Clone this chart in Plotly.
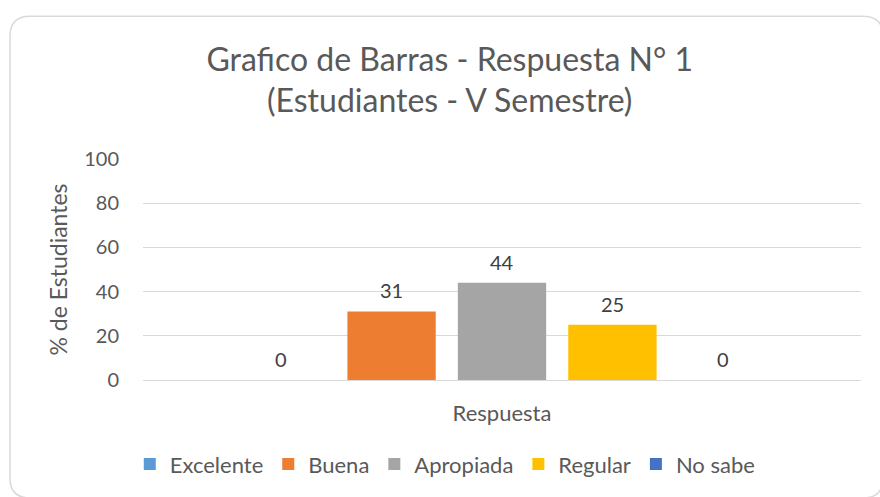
import plotly.graph_objects as go

categories = ["Respuesta"]
series_names = ["Excelente", "Buena", "Apropiada", "Regular", "No sabe"]
series_values = [0, 31, 44, 25, 0]
series_colors = ["#5B9BD5", "#ED7D31", "#A5A5A5", "#FFC000", "#4472C4"]

title_text = "Grafico de Barras - Respuesta N° 1<br>(Estudiantes - V Semestre)"
y_title = "% de Estudiantes"
y_ticks = [0, 20, 40, 60, 80, 100]

FONT = "Lato"
W, H = 880, 497
ML, MR, MT, MB = 143, 19, 159, 115
PW, PH = W - ML - MR, H - MT - MB
BARGAP = 0.231

fig = go.Figure()
for name, val, col in zip(series_names, series_values, series_colors):
    fig.add_trace(go.Bar(
        x=categories, y=[val], name=name, marker=dict(color=col, line=dict(width=0)),
        hoverinfo="skip",
    ))

# value labels, placed over each grouped bar slot
n = len(series_names)
slot = (1 - BARGAP) / n
annotations = []
for i, val in enumerate(series_values):
    annotations.append(dict(
        x=(i - (n - 1) / 2) * slot, y=val, xref="x", yref="y",
        text=str(val), showarrow=False, yanchor="middle", yshift=21,
        font=dict(family=FONT, size=20, color="#404040"),
    ))


def px2paper(px, py):
    return (px - ML) / PW, (H - MB - py) / PH


def frame_path(left, top, right, bottom, r):
    def p(x, y):
        a, b = px2paper(x, y)
        return f"{a:.5f},{b:.5f}"
    return (f"M {p(left + r, top)} L {p(right - r, top)} Q {p(right, top)} {p(right, top + r)} "
            f"L {p(right, bottom - r)} Q {p(right, bottom)} {p(right - r, bottom)} "
            f"L {p(left + r, bottom)} Q {p(left, bottom)} {p(left, bottom - r)} "
            f"L {p(left, top + r)} Q {p(left, top)} {p(left + r, top)} Z")


fig.update_layout(
    width=W, height=H,
    margin=dict(l=ML, r=MR, t=MT, b=MB),
    paper_bgcolor="white", plot_bgcolor="white",
    barmode="group", bargap=BARGAP, bargroupgap=0.2,
    font=dict(family=FONT, color="#595959", size=20),
    title=dict(text=title_text, x=0.511, xanchor="center", y=0.858, yanchor="middle",
               font=dict(family=FONT, size=32, color="#595959")),
    xaxis=dict(showgrid=False, showline=True, linecolor="#D9D9D9", linewidth=1,
               ticks="", tickfont=dict(size=22, color="#595959"), ticklabelstandoff=14,
               zeroline=False),
    yaxis=dict(range=[0, 100], tickvals=y_ticks, showgrid=True, gridcolor="#D9D9D9",
               gridwidth=1, zeroline=False, showline=False, ticks="",
               tickfont=dict(size=20, color="#595959"), ticklabelstandoff=23,
               title=dict(text=y_title, font=dict(size=23, color="#595959"), standoff=10)),
    legend=dict(orientation="h", x=0.421, xanchor="center", y=-0.381, yanchor="middle",
                font=dict(size=22, color="#595959"), traceorder="normal"),
    annotations=annotations,
    shapes=[dict(type="path", xref="paper", yref="paper",
                 path=frame_path(10, 15, 883, 501, 20),
                 line=dict(color="#D9D9D9", width=1.5), layer="below")],
)

fig.write_html("out.html", config={"displayModeBar": False},
               post_script="document.body.style.margin='0';")
